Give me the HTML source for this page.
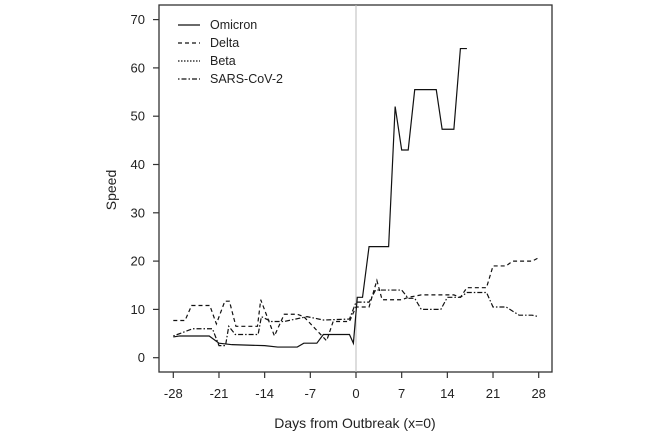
<!DOCTYPE html>
<html><head><meta charset="utf-8"><style>
body{margin:0;background:#fff}
svg text{font-family:"Liberation Sans",sans-serif;fill:#222}
</style></head><body>
<svg id="c" width="666" height="432" xmlns="http://www.w3.org/2000/svg">
<rect x="159" y="5" width="393" height="367" fill="none" stroke="#333" stroke-width="1.3"/>
<g id="axes"></g>
<g id="series"></g>
<g>
<line x1="178" y1="25" x2="200" y2="25" stroke="#111" stroke-width="1.2"/>
<text x="210" y="29" font-size="12.5">Omicron</text>
<line x1="178" y1="43" x2="200" y2="43" stroke="#111" stroke-width="1.2" stroke-dasharray="4,3"/>
<text x="210" y="47" font-size="12.5">Delta</text>
<line x1="178" y1="61" x2="200" y2="61" stroke="#111" stroke-width="1.2" stroke-dasharray="1.5,1.5"/>
<text x="210" y="65" font-size="12.5">Beta</text>
<line x1="178" y1="79" x2="200" y2="79" stroke="#111" stroke-width="1.2" stroke-dasharray="1.5,2,5,2"/>
<text x="210" y="83" font-size="12.5">SARS-CoV-2</text>
</g>
<text x="355" y="428" font-size="14" text-anchor="middle">Days from Outbreak (x=0)</text>
<text transform="translate(116,190) rotate(-90)" font-size="14" text-anchor="middle">Speed</text>
</svg>
<script>
const xTicks=[-28,-21,-14,-7,0,7,14,21,28];
const yTicks=[0,10,20,30,40,50,60,70];
const omicronDays=[-28,-27,-22.5,-21,-19,-14,-12,-9,-8,-6,-5,-1,-0.4,0.2,1,2,5,6,7,8,9,12.3,13.2,15,16,17];
const omicronVals=[4.3,4.5,4.5,3,2.7,2.5,2.2,2.2,3,3,4.8,4.8,3,12.5,12.5,23,23,52,43,43,55.5,55.5,47.3,47.3,64,64];
const deltaDays=[-28,-26.2,-25.2,-22.4,-21.4,-20.1,-19.4,-18.4,-15.1,-14.6,-12.5,-11,-9,-8,-4.5,-3.5,-1,0,2,3.2,4,7,8,10,15,16,17,20,21,23,24,27,28];
const deltaVals=[7.7,7.7,10.8,10.8,7,11.7,11.7,6.5,6.5,12,4.5,9,9,8.5,3.5,7.5,7.5,10.5,10.5,16,12,12,12.5,13,13,12.5,14.5,14.5,19,19,20,20,20.7];
const sarsDays=[-28,-25,-22,-21,-20,-19.5,-18.5,-15,-14.5,-13,-11,-7.5,-5,-1,0,2,3,7,8,9,10,13,14,16,17,20,21,23,25,27,28];
const sarsVals=[4.5,6,6,2.5,2.5,6.5,4.8,4.8,8.5,7.5,7.5,8.5,7.8,8,11.5,11.5,14,14,12.3,12.3,10,10,12.5,12.5,13.5,13.5,10.5,10.5,8.8,8.8,8.5];
const NS='http://www.w3.org/2000/svg';
const X=d=>356+d*6.525;
const Y=v=>357.7-v*4.83;
const axes=document.getElementById('axes'),ser=document.getElementById('series');
function mk(tag,attrs,parent){const e=document.createElementNS(NS,tag);for(const k in attrs)e.setAttribute(k,attrs[k]);parent.appendChild(e);return e;}
const vl=mk('line',{x1:X(0),x2:X(0),y1:5,y2:372,stroke:'#bbb','stroke-width':1},axes);


xTicks.forEach(t=>{
 const l=mk('line',{x1:X(t),x2:X(t),y1:372,y2:378,stroke:'#333','stroke-width':1.2},axes);
 
 
 const tx=mk('text',{x:X(t),y:398,'font-size':13,'text-anchor':'middle'},axes);tx.textContent=t;
 
 
});
yTicks.forEach(t=>{
 const l=mk('line',{x1:153,x2:159,y1:Y(t),y2:Y(t),stroke:'#333','stroke-width':1.2},axes);
 
 
 const tx=mk('text',{x:145,y:Y(t)+4.5,'font-size':13,'text-anchor':'end'},axes);tx.textContent=t;
 
 
});
function line(days,vals,dash,name){
 const p=mk('polyline',{points:days.map((d,i)=>X(d)+','+Y(vals[i])).join(' '),fill:'none',stroke:'#111','stroke-width':1.2,'stroke-dasharray':dash},ser);
 
 
}
line(omicronDays,omicronVals,'none','omicron-line');
line(deltaDays,deltaVals,'4,3','delta-line');
line(sarsDays,sarsVals,'1.5,2,5,2','sars-cov-2-line');
</script>
</body></html>
